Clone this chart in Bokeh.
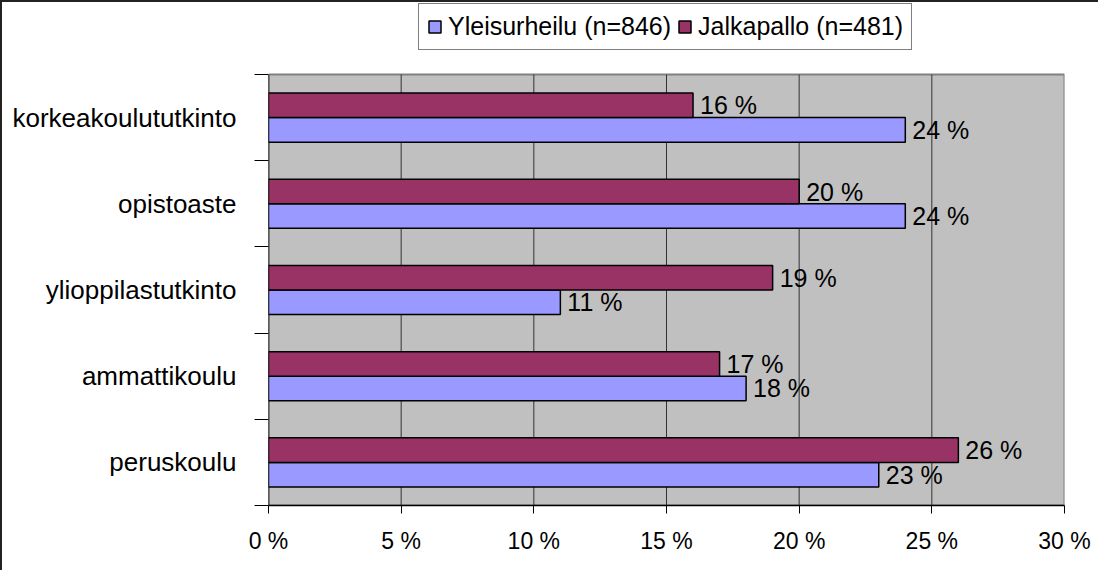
from bokeh.plotting import figure
from bokeh.models import FixedTicker, Legend, LegendItem, ColumnDataSource, Range1d
from bokeh.core.properties import value
from bokeh.embed import file_html
from bokeh.resources import INLINE

categories = ["peruskoulu", "ammattikoulu", "ylioppilastutkinto", "opistoaste", "korkeakoulututkinto"]
yleisurheilu = [23, 18, 11, 24, 24]
jalkapallo = [26, 17, 19, 20, 16]
series_names = ["Yleisurheilu (n=846)", "Jalkapallo (n=481)"]
x_ticks = [0, 5, 10, 15, 20, 25, 30]
x_tick_labels = ["0 %", "5 %", "10 %", "15 %", "20 %", "25 %", "30 %"]

FONT = "Liberation Sans"
BLUE = "#9999FF"
PURPLE = "#993366"
BAR_H = 0.285

n = len(categories)
x_min, x_max = x_ticks[0], x_ticks[-1]
# frame extends above the category area to hold the legend
y_top = n * 503 / 431

centers = [i + 0.5 for i in range(n)]
src_y = ColumnDataSource(dict(
    y=[c - BAR_H / 2 for c in centers], v=yleisurheilu,
    lab=[f"{v} %" for v in yleisurheilu]))
src_j = ColumnDataSource(dict(
    y=[c + BAR_H / 2 for c in centers], v=jalkapallo,
    lab=[f"{v} %" for v in jalkapallo]))

p = figure(width=1098, height=570, x_range=Range1d(x_min, x_max), y_range=Range1d(0, y_top),
           output_backend="svg", toolbar_location=None,
           min_border_left=266, min_border_right=36, min_border_top=0, min_border_bottom=67)
p.styles = {"border-top": "2px solid #222222", "border-left": "2px solid #222222"}

p.background_fill_color = "white"
p.border_fill_color = "white"
p.outline_line_color = None
p.xgrid.grid_line_color = None
p.ygrid.grid_line_color = None

# plot area
p.quad(left=[x_min], right=[x_max], bottom=[0], top=[n],
       fill_color="#C0C0C0", line_color="#808080", line_width=2)
# vertical grid lines
inner = x_ticks[1:-1]
p.segment(x0=inner, y0=[0] * len(inner), x1=inner, y1=[n] * len(inner),
          line_color="#333333", line_width=1)
# y axis line
p.segment(x0=[x_min], y0=[0], x1=[x_min], y1=[n], line_color="black", line_width=1.5)

r1 = p.hbar(y="y", left=0, right="v", height=BAR_H, source=src_y,
            fill_color=BLUE, line_color="black", line_width=1.5)
r2 = p.hbar(y="y", left=0, right="v", height=BAR_H, source=src_j,
            fill_color=PURPLE, line_color="black", line_width=1.5)

for src in (src_y, src_j):
    p.text(x="v", y="y", text="lab", source=src, x_offset=7,
           text_baseline="middle", text_align="left",
           text_font=value(FONT), text_font_size="25px", text_color="black")

# x axis
p.xaxis.ticker = FixedTicker(ticks=x_ticks)
p.xaxis.major_label_overrides = {t: l for t, l in zip(x_ticks, x_tick_labels)}
p.xaxis.major_tick_out = 8
p.xaxis.major_tick_in = 0
p.xaxis.minor_tick_line_color = None
p.xaxis.axis_line_color = "black"
p.xaxis.axis_line_width = 1.5
p.xaxis.major_tick_line_color = "black"
p.xaxis.major_label_text_font = FONT
p.xaxis.major_label_text_font_size = "23px"
p.xaxis.major_label_text_color = "black"
p.xaxis.major_label_standoff = 14

# y axis
p.yaxis.ticker = FixedTicker(ticks=centers, minor_ticks=list(range(n + 1)))
p.yaxis.major_label_overrides = {c: name for c, name in zip(centers, categories)}
p.yaxis.major_tick_out = 0
p.yaxis.major_tick_in = 0
p.yaxis.major_tick_line_color = None
p.yaxis.minor_tick_out = 14
p.yaxis.minor_tick_in = 0
p.yaxis.minor_tick_line_color = "black"
p.yaxis.axis_line_color = None
p.yaxis.major_label_text_font = FONT
p.yaxis.major_label_text_font_size = "26px"
p.yaxis.major_label_text_color = "black"
p.yaxis.major_label_standoff = 18

legend = Legend(items=[LegendItem(label=series_names[0], renderers=[r1]),
                       LegendItem(label=series_names[1], renderers=[r2])],
                location=(150, 455), orientation="horizontal",
                border_line_color="black", border_line_width=1,
                background_fill_color="white", background_fill_alpha=1,
                label_text_font=FONT, label_text_font_size="25px",
                label_text_color="black",
                glyph_width=15, glyph_height=15, padding=8, spacing=6,
                label_standoff=6, margin=0)
p.add_layout(legend)

open("out.html", "w").write(file_html(p, INLINE))
